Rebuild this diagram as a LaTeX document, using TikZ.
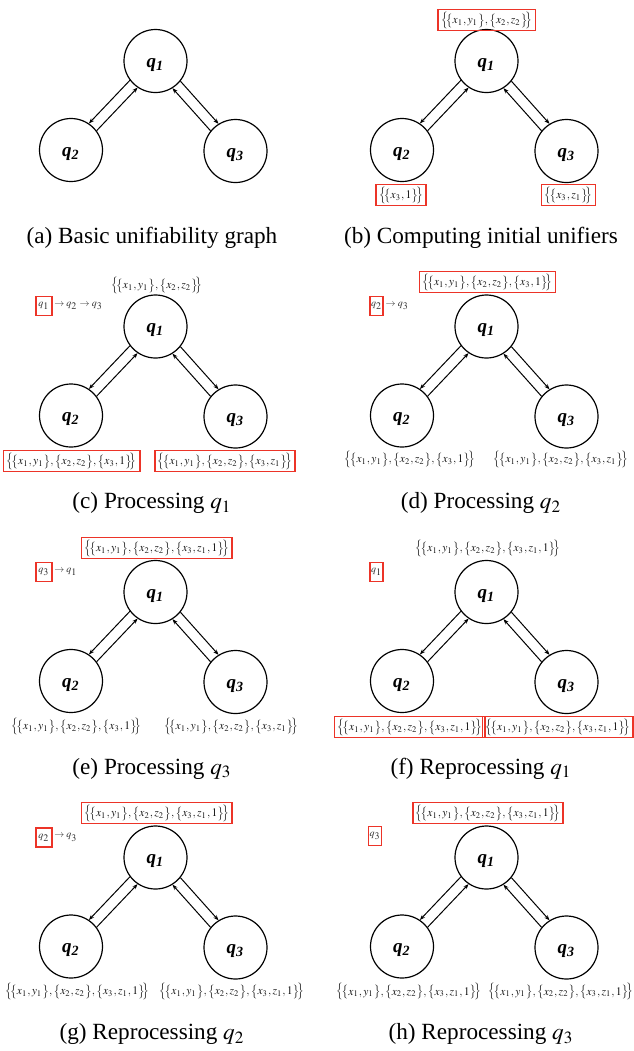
\documentclass[tikz,border=0pt]{standalone}
\usepackage{mathptmx}
\usepackage{graphicx}
\usepackage[no-math]{fontspec}
\setmainfont{Liberation Serif}
\usetikzlibrary{arrows.meta}
\definecolor{boxred}{RGB}{236,52,40}
\newcommand{\sIn}[1]{\bigl\{#1\bigr\}}
\newcommand{\sOut}[1]{\mathopen{\scalebox{1}[1.22]{$\bigl\{$}}\mkern-3mu#1\mkern-3mu\mathclose{\scalebox{1}[1.22]{$\bigr\}$}}}
\newcommand{\setA}{$\sOut{\sIn{x_1,y_1},\sIn{x_2,z_2}}$}
\newcommand{\setB}{$\sOut{\sIn{x_1,y_1},\sIn{x_2,z_2},\sIn{x_3,1}}$}
\newcommand{\setC}{$\sOut{\sIn{x_1,y_1},\sIn{x_2,z_2},\sIn{x_3,z_1}}$}
\newcommand{\setD}{$\sOut{\sIn{x_1,y_1},\sIn{x_2,z_2},\sIn{x_3,z_1,1}}$}
\newcommand{\qlab}[1]{\raisebox{-3.2pt}[0pt][0pt]{\textbf{\textit{q\textsubscript{#1}}}}}
\tikzset{
  stnode/.style={circle, draw, line width=0.6pt, minimum size=31.5pt, inner sep=0pt, font=\fontsize{9.5}{10}\selectfont},
  arr/.style={line width=0.5pt, -{Stealth[length=2.6pt,width=2pt]}},
  slab/.style={inner xsep=1.5pt, inner ysep=1pt, font=\fontsize{5.8}{7}\selectfont, text=black!90},
  rbox/.style={slab, draw=boxred, line width=0.75pt},
  qbox/.style={draw=boxred, line width=0.75pt, minimum height=9.5pt, minimum width=8pt, inner sep=0.6pt, font=\fontsize{5}{6}\selectfont, text=black!80},
  qboxr/.style={qbox, minimum width=5.5pt},
  qtxt/.style={inner sep=0.6pt, font=\fontsize{5}{6}\selectfont, text=black!80, anchor=west},
  captxt/.style={anchor=base, inner sep=0pt, font=\fontsize{11.6}{13}\selectfont}
}
\newcommand{\ugraph}[3]{%
  \node[stnode] (q1-#1) at ({#2+155.5},{#3+61}) {\qlab{1}};
  \node[stnode] (q2-#1) at ({#2+71},{#3+150}) {\qlab{2}};
  \node[stnode] (q3-#1) at ({#2+235.5},{#3+151}) {\qlab{3}};
  \draw[arr] (q1-#1.217) -- (q2-#1.56);
  \draw[arr] (q2-#1.37) -- (q1-#1.236);
  \draw[arr] (q1-#1.321) -- (q3-#1.122);
  \draw[arr] (q3-#1.141) -- (q1-#1.302);
}
\begin{document}
\begin{tikzpicture}[x=0.5pt,y=-0.5pt]
\useasboundingbox (0,0) rectangle (633,1051);
% panels
\ugraph{a}{0}{0}
\ugraph{b}{331}{0}
\ugraph{c}{0}{265.5}
\ugraph{d}{331}{265.5}
\ugraph{e}{0}{531}
\ugraph{f}{331}{531}
\ugraph{g}{0}{796.5}
\ugraph{h}{331}{796.5}
% (b)
\node[rbox] (tb) at (486.7,20) {\setA};
\node[rbox] (lb) at (401,195) {$\sOut{\sIn{x_3,1}}$};
\node[rbox] (rb) at (568.7,195) {$\sOut{\sIn{x_3,z_1}}$};
% (c)
\node[slab] (tc) at (157,285) {\setA};
\node[rbox] (lc) at (71.7,461) {\setB};
\node[rbox] (rc) at (225,461) {\setC};
\node[qbox] (qc) at (43.9,306) {$q_1$};
\node[qtxt] (qc2) at (qc.east) {$\to q_2 \to q_3$};
% (d)
\node[rbox] (td) at (487.5,282) {\setB};
\node[slab] (ld) at (410,459) {\setB};
\node[slab] (rd) at (561,459) {\setC};
\node[qboxr] (qd) at (376.5,306) {$q_2$};
\node[qtxt] (qd2) at (qd.east) {$\to q_3$};
% (e)
\node[rbox] (te) at (156.7,548) {\setD};
\node[slab] (le) at (76.7,726) {\setB};
\node[slab] (re) at (231.2,726) {\setC};
\node[qbox] (qe) at (43.9,572) {$q_3$};
\node[qtxt] (qe2) at (qe.east) {$\to q_1$};
% (f)
\node[slab] (tf) at (488,548) {\setD};
\node[rbox] (lf) at (409.8,727) {\setD};
\node[rbox] (rf) at (557.8,727) {\setD};
\node[qboxr] (qf) at (376.5,572) {$q_1$};
% (g)
\node[rbox] (tg) at (156.7,813) {\setD};
\node[slab] (lg) at (77.5,991) {\setD};
\node[slab] (rg) at (232,991) {\setD};
\node[qbox] (qg) at (43.9,837.5) {$q_2$};
\node[qtxt] (qg2) at (qg.east) {$\to q_3$};
% (h)
\node[rbox] (th) at (488,813) {\setD};
\node[slab] (lh) at (409,991.5) {\setD};
\node[slab] (rh) at (561,991.5) {\setD};
\node[qboxr] (qh) at (375,836) {$q_3$};
% captions
\node[captxt] (ca) at (152,243) {(a) Basic unifiability graph};
\node[captxt] (cb) at (481,243) {(b) Computing initial unifiers};
\node[captxt] (cc) at (152,508.5) {(c) Processing $q_1$};
\node[captxt] (cd) at (481,508.5) {(d) Processing $q_2$};
\node[captxt] (ce) at (152,774) {(e) Processing $q_3$};
\node[captxt] (cf) at (481,774) {(f) Reprocessing $q_1$};
\node[captxt] (cg) at (152,1039.5) {(g) Reprocessing $q_2$};
\node[captxt] (ch) at (481,1039.5) {(h) Reprocessing $q_3$};
\end{tikzpicture}
\end{document}
